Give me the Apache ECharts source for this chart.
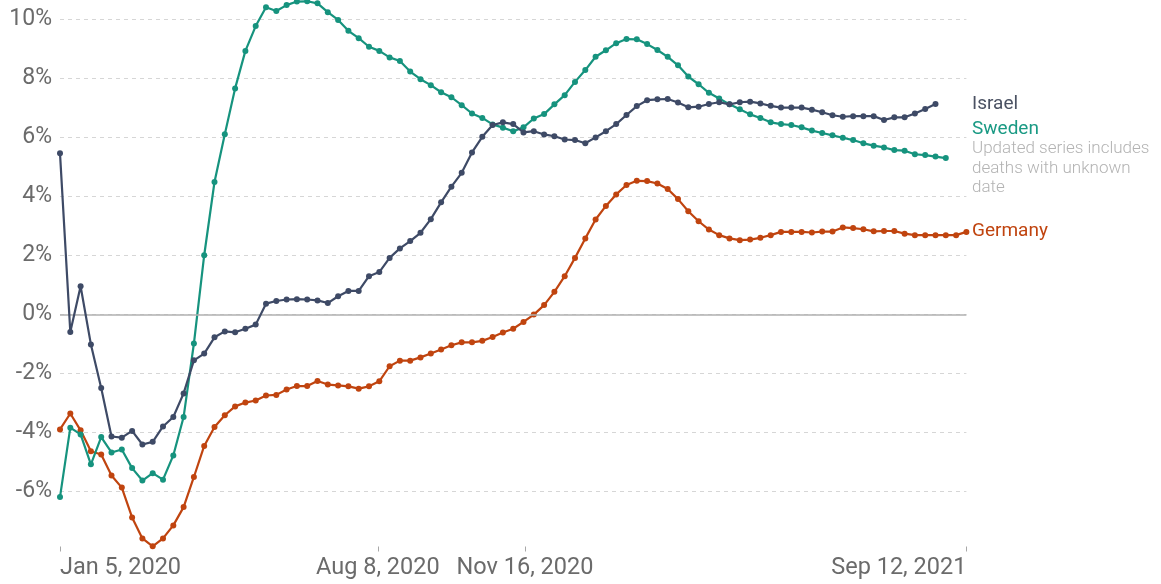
<!DOCTYPE html>
<html>
<head>
<meta charset="utf-8">
<script src="https://cdn.jsdelivr.net/npm/echarts@6/dist/echarts.min.js"></script>
<style>
  html, body { margin: 0; padding: 0; background: #ffffff; }
  #chart { width: 1161px; height: 584px; }
</style>
</head>
<body>
<div id="chart"></div>
<script>
// ---- Data (weekly observations starting Jan 5, 2020) ----
var startDate = Date.UTC(2020, 0, 5);
var DAY = 24 * 3600 * 1000;
var weekDays = 7;

var israel = [5.45, -0.60, 0.95, -1.02, -2.50, -4.14, -4.18, -3.95, -4.41, -4.32,
  -3.80, -3.48, -2.68, -1.56, -1.33, -0.78, -0.58, -0.61, -0.49, -0.35,
  0.36, 0.45, 0.50, 0.51, 0.50, 0.47, 0.38, 0.61, 0.79, 0.79,
  1.29, 1.43, 1.91, 2.23, 2.48, 2.76, 3.22, 3.79, 4.32, 4.79,
  5.48, 6.01, 6.41, 6.50, 6.44, 6.16, 6.20, 6.09, 6.03, 5.92,
  5.90, 5.79, 5.99, 6.20, 6.44, 6.75, 7.05, 7.25, 7.28, 7.29,
  7.17, 7.01, 7.03, 7.12, 7.18, 7.11, 7.18, 7.20, 7.14, 7.06,
  7.00, 7.00, 7.00, 6.93, 6.84, 6.74, 6.69, 6.71, 6.71, 6.71,
  6.58, 6.67, 6.67, 6.80, 6.95, 7.12];

var sweden = [-6.19, -3.84, -4.07, -5.08, -4.16, -4.68, -4.58, -5.21, -5.63, -5.38,
  -5.60, -4.78, -3.48, -0.99, 2.00, 4.48, 6.10, 7.65, 8.92, 9.76,
  10.40, 10.27, 10.47, 10.59, 10.60, 10.53, 10.23, 9.97, 9.60, 9.35,
  9.06, 8.92, 8.70, 8.58, 8.22, 7.96, 7.76, 7.52, 7.35, 7.08,
  6.80, 6.65, 6.43, 6.32, 6.20, 6.33, 6.63, 6.78, 7.11, 7.42,
  7.87, 8.27, 8.72, 8.94, 9.18, 9.32, 9.31, 9.15, 8.95, 8.72,
  8.43, 8.05, 7.79, 7.50, 7.31, 7.11, 6.94, 6.77, 6.65, 6.50,
  6.44, 6.41, 6.33, 6.22, 6.14, 6.06, 5.98, 5.90, 5.79, 5.71,
  5.65, 5.56, 5.54, 5.42, 5.39, 5.34, 5.29];

var germany = [-3.90, -3.36, -3.93, -4.64, -4.75, -5.46, -5.87, -6.88, -7.59, -7.86,
  -7.59, -7.15, -6.53, -5.51, -4.46, -3.82, -3.42, -3.12, -2.99, -2.92,
  -2.75, -2.73, -2.55, -2.43, -2.43, -2.26, -2.38, -2.41, -2.44, -2.52,
  -2.44, -2.27, -1.76, -1.57, -1.57, -1.46, -1.33, -1.19, -1.05, -0.95,
  -0.95, -0.90, -0.77, -0.62, -0.49, -0.26, -0.01, 0.31, 0.76, 1.29,
  1.91, 2.57, 3.21, 3.67, 4.06, 4.38, 4.52, 4.51, 4.43, 4.24,
  3.90, 3.49, 3.15, 2.87, 2.68, 2.57, 2.51, 2.53, 2.59, 2.68,
  2.79, 2.79, 2.79, 2.77, 2.80, 2.80, 2.94, 2.92, 2.88, 2.81,
  2.82, 2.82, 2.73, 2.68, 2.68, 2.68, 2.68, 2.68, 2.79];

var xTickDates = [Date.UTC(2020, 0, 5), Date.UTC(2020, 7, 8), Date.UTC(2020, 10, 16), Date.UTC(2021, 8, 12)];
var xTickLabels = ['Jan 5, 2020', 'Aug 8, 2020', 'Nov 16, 2020', 'Sep 12, 2021'];

var colors = { Israel: '#3e4a66', Sweden: '#16937e', Germany: '#c0440f' };

// x position = days since start date
var xTickDays = xTickDates.map(function (d) { return Math.round((d - startDate) / DAY); });

function toPairs(arr) {
  return arr.map(function (v, i) { return [i * weekDays, v]; });
}

var chart = echarts.init(document.getElementById('chart'), null, { renderer: 'canvas' });

var FONT = 'Roboto, "Noto Sans", sans-serif';

function lineSeries(name, values, z) {
  return {
    name: name,
    type: 'line',
    data: toPairs(values),
    symbol: 'circle',
    symbolSize: 6,
    clip: false,
    color: colors[name],
    lineStyle: { width: 2.2, color: colors[name] },
    itemStyle: { color: colors[name] },
    z: z
  };
}

var germanySeries = lineSeries('Germany', germany, 3);
germanySeries.markLine = {
  silent: true,
  symbol: 'none',
  label: { show: false },
  lineStyle: { color: '#b0b0b0', width: 1.5, type: 'solid' },
  data: [{ yAxis: 0 }]
};

var labelGraphics = [
  { type: 'text', x: 972, y: 104.5, style: { text: 'Israel', fill: '#4b5263', font: '19px ' + FONT, verticalAlign: 'middle', align: 'left' } },
  { type: 'text', x: 972, y: 129.5, style: { text: 'Sweden', fill: '#1a9a84', font: '19px ' + FONT, verticalAlign: 'middle', align: 'left' } },
  { type: 'text', x: 972, y: 139, style: { text: 'Updated series includes\ndeaths with unknown\ndate', fill: '#b3b3b3', font: '300 17px ' + FONT, lineHeight: 19.5, verticalAlign: 'top', align: 'left' } },
  { type: 'text', x: 972, y: 231.5, style: { text: 'Germany', fill: '#c0440f', font: '19px ' + FONT, verticalAlign: 'middle', align: 'left' } }
];

var option = {
  animation: false,
  backgroundColor: '#ffffff',
  grid: { left: 60, right: 194.6, top: 19, bottom: 33.5, containLabel: false },
  xAxis: {
    type: 'value',
    min: xTickDays[0],
    max: xTickDays[xTickDays.length - 1],
    offset: -4,
    axisLine: { show: false, onZero: false },
    axisTick: { show: false },
    axisLabel: {
      customValues: xTickDays,
      margin: 10,
      color: '#6b6b6b',
      fontFamily: FONT,
      fontSize: 23.5,
      alignMinLabel: 'left',
      alignMaxLabel: 'right',
      formatter: function (val) {
        var i = xTickDays.indexOf(Math.round(val));
        return i >= 0 ? xTickLabels[i] : '';
      }
    },
    splitLine: { show: false }
  },
  yAxis: {
    type: 'value',
    min: -8,
    max: 10,
    interval: 2,
    axisLine: { show: false },
    axisTick: { show: false },
    axisLabel: {
      showMinLabel: false,
      margin: 8,
      color: '#6b6b6b',
      fontFamily: FONT,
      fontSize: 23,
      formatter: '{value}%'
    },
    splitLine: {
      show: true,
      showMinLine: false,
      lineStyle: { color: '#d6d6d6', width: 1, type: [4, 4] }
    }
  },
  series: [
    germanySeries,
    lineSeries('Sweden', sweden, 4),
    lineSeries('Israel', israel, 5)
  ],
  graphic: labelGraphics
};

chart.setOption(option);

// x-axis tick marks, placed through the axis scale
var yBottom = chart.convertToPixel({ yAxisIndex: 0 }, -8);
var tickGraphics = xTickDays.map(function (d) {
  var px = Math.round(chart.convertToPixel({ xAxisIndex: 0 }, d)) + 0.5;
  return {
    type: 'line',
    shape: { x1: px, y1: yBottom - 4, x2: px, y2: yBottom + 1 },
    style: { stroke: '#a8a8a8', lineWidth: 1 },
    silent: true
  };
});
chart.setOption({ graphic: labelGraphics.concat(tickGraphics) });
</script>
</body>
</html>
